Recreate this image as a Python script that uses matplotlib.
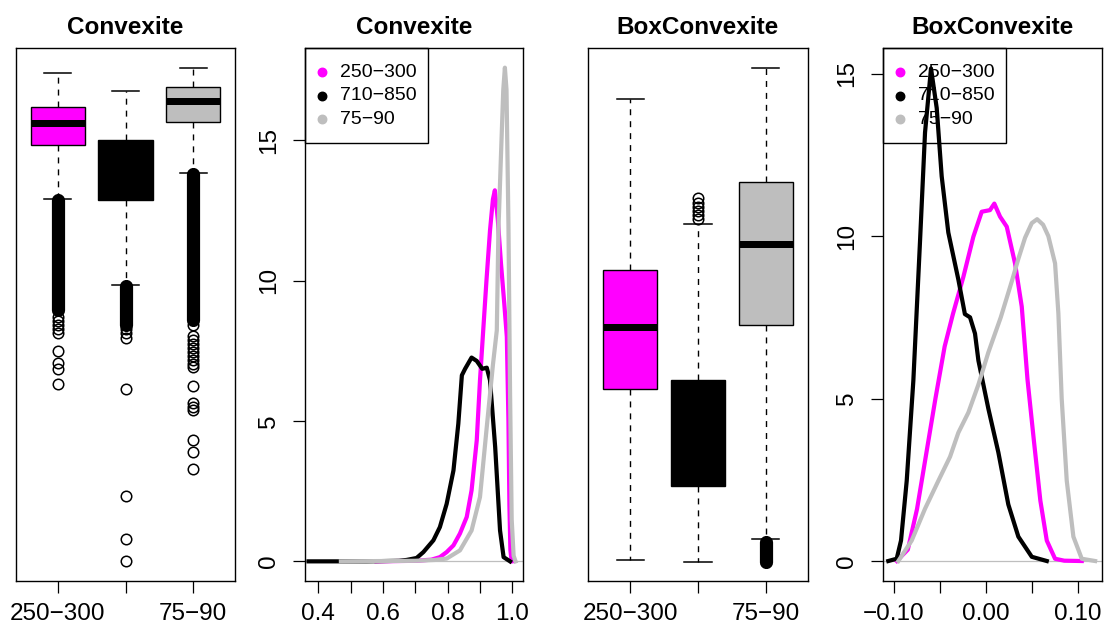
import matplotlib
matplotlib.use("Agg")
import matplotlib.pyplot as plt
from matplotlib.patches import Rectangle

plt.rcParams['font.family'] = ['Liberation Sans', 'DejaVu Sans']

# ---------------- data ----------------
groups = ["250-300", "710-850", "75-90"]
colors = ["#FF00FF", "#000000", "#BEBEBE"]

# Panel 1: boxplot of Convexite
conv_whislo = [0.8322, 0.7227, 0.8654]
conv_q1 = [0.9016, 0.8313, 0.9306]
conv_med = [0.9301, 0.8671, 0.9582]
conv_q3 = [0.9502, 0.9076, 0.9753]
conv_whishi = [0.9940, 0.9706, 1.0000]
conv_fliers = [
    [0.6822, 0.6771, 0.6720, 0.6668, 0.6617, 0.6383, 0.6226, 0.6153, 0.5958],
    [0.6665, 0.6613, 0.6550, 0.5894, 0.4530, 0.3981, 0.3700],
    [0.6716, 0.6575, 0.6524, 0.6473, 0.6422, 0.6371, 0.6320, 0.6269, 0.6218,
     0.6179, 0.5940, 0.5715, 0.5672, 0.5630, 0.5246, 0.5097, 0.4875],
]
# ranges where outliers are so dense they form a solid column
conv_dense = [[0.6907, 0.8310], [0.6716, 0.7208], [0.6780, 0.8650]]

# Panel 2: density of Convexite
conv_dens_x = [
    [0.580, 0.700, 0.750, 0.776, 0.797, 0.818, 0.838, 0.859, 0.874, 0.890, 0.900,
     0.910, 0.920, 0.931, 0.940, 0.946, 0.955, 0.965, 0.975, 0.983, 0.988, 0.991,
     0.994, 0.998],
    [0.370, 0.450, 0.550, 0.650, 0.673, 0.704, 0.725, 0.756, 0.776, 0.797, 0.818,
     0.833, 0.844, 0.854, 0.874, 0.890, 0.907, 0.921, 0.931, 0.947, 0.962, 0.973,
     0.993],
    [0.470, 0.700, 0.760, 0.797, 0.838, 0.874, 0.900, 0.921, 0.940, 0.952, 0.957,
     0.965, 0.972, 0.977, 0.982, 0.988, 0.993, 0.998, 1.004, 1.010],
]
conv_dens_y = [
    [0.00, 0.02, 0.06, 0.15, 0.33, 0.57, 0.99, 1.58, 2.53, 4.31, 6.45,
     8.23, 10.00, 11.79, 12.90, 13.22, 12.20, 10.60, 9.20, 8.00, 5.00, 2.00,
     0.40, 0.00],
    [0.00, 0.00, 0.00, 0.02, 0.05, 0.12, 0.33, 0.75, 1.22, 2.05, 3.24,
     4.90, 6.63, 6.86, 7.26, 7.14, 6.86, 6.90, 6.45, 4.07, 1.10, 0.15,
     0.00],
    [0.00, 0.02, 0.05, 0.10, 0.39, 1.10, 2.29, 4.79, 7.00, 8.23, 11.80,
     14.50, 16.80, 17.59, 16.80, 12.00, 6.00, 1.50, 0.20, 0.00],
]

# Panel 3: boxplot of BoxConvexite
box_whislo = [-0.0892, -0.0902, -0.0811]
box_q1 = [-0.0236, -0.0608, 0.0011]
box_med = [0.0002, -0.0396, 0.0323]
box_q3 = [0.0223, -0.0200, 0.0561]
box_whishi = [0.0879, 0.0399, 0.1000]
box_fliers = [[], [0.0417, 0.0433, 0.0448, 0.0463, 0.0479, 0.0498], []]
box_dense = [None, None, [-0.0900, -0.0823]]

# Panel 4: density of BoxConvexite
box_dens_x = [
    [-0.097, -0.085, -0.075, -0.065, -0.055, -0.045, -0.036, -0.0246, -0.0138,
     -0.0047, 0.0043, 0.0090, 0.0152, 0.0225, 0.0315, 0.0388, 0.0450, 0.0520,
     0.0590, 0.0660, 0.0750, 0.0850, 0.1040],
    [-0.1062, -0.0971, -0.0924, -0.0862, -0.0790, -0.0717, -0.0663, -0.0598,
     -0.0536, -0.0482, -0.0410, -0.0300, -0.0230, -0.0174, -0.0120, -0.0083,
     0.0025, 0.0134, 0.0242, 0.0351, 0.0497, 0.0660],
    [-0.0953, -0.0808, -0.0663, -0.0518, -0.0391, -0.0301, -0.0192, -0.0083,
     0.0025, 0.0160, 0.0279, 0.0351, 0.0424, 0.0497, 0.0555, 0.0620, 0.0677,
     0.0750, 0.0786, 0.0822, 0.0877, 0.0949, 0.1040, 0.1185],
]
box_dens_y = [
    [0.00, 0.35, 1.60, 3.30, 5.00, 6.60, 7.60, 8.75, 9.98,
     10.75, 10.80, 11.00, 10.60, 10.29, 9.16, 7.83, 5.60, 3.70,
     1.86, 0.63, 0.07, 0.01, 0.00],
    [0.00, 0.07, 0.63, 2.47, 5.55, 9.87, 13.19, 15.16,
     13.94, 11.84, 10.11, 8.65, 7.60, 7.50, 7.00, 6.17,
     4.69, 3.34, 1.74, 0.75, 0.13, 0.00],
    [0.00, 0.63, 1.61, 2.47, 3.21, 3.95, 4.57, 5.43,
     6.42, 7.50, 8.60, 9.30, 9.95, 10.40, 10.52, 10.35, 10.00,
     9.16, 7.62, 5.00, 2.47, 0.75, 0.07, 0.00],
]

conv_xticks = [0.4, 0.5, 0.6, 0.7, 0.8, 0.9, 1.0]
conv_xlabels = ["0.4", "", "0.6", "", "0.8", "", "1.0"]
box_xticks = [-0.10, -0.05, 0.0, 0.05, 0.10]
box_xlabels = ["\u22120.10", "", "0.00", "", "0.10"]
dens_yticks = [0, 5, 10, 15]


def disp(s):
    # R renders the hyphen as a minus sign
    return s.replace("-", "\u2212")


# ---------------- figure ----------------
W, H = 1104, 626
fig = plt.figure(figsize=(W / 100, H / 100), dpi=100)

top_px, bot_px = 48.3, 581.0
panels_px = [(16.0, 235.0), (305.0, 523.0), (588.3, 807.7), (882.7, 1102.0)]
axes = []
for (l, r) in panels_px:
    ax = fig.add_axes([l / W, (H - bot_px) / H, (r - l) / W, (bot_px - top_px) / H])
    axes.append(ax)

FS = 17.5
PX = 72 / 100  # points per pixel


def style_axes(ax):
    for s in ax.spines.values():
        s.set_linewidth(1.0)
        s.set_color("black")
    ax.tick_params(direction="out", length=12 * PX, width=0.9, color="black",
                   labelsize=FS, labelcolor="black")
    ax.tick_params(axis="x", pad=7)
    ax.tick_params(axis="y", pad=9)


def boxpanel(ax, title, whislo, q1, med, q3, whishi, fliers, dense, ylim):
    stats = []
    for i in range(len(groups)):
        stats.append(dict(med=med[i], q1=q1[i], q3=q3[i], whislo=whislo[i],
                          whishi=whishi[i], fliers=fliers[i]))
    pos = list(range(1, len(groups) + 1))
    bp = ax.bxp(stats, positions=pos, widths=0.8, capwidths=0.4,
                patch_artist=True, manage_ticks=False,
                boxprops=dict(linewidth=1.0, edgecolor="black"),
                medianprops=dict(color="black", linewidth=7 * PX, solid_capstyle="butt"),
                whiskerprops=dict(color="black", linewidth=1.0, linestyle=(0, (4.3, 4.3))),
                capprops=dict(color="black", linewidth=1.1),
                flierprops=dict(marker="o", markerfacecolor="none", markeredgecolor="black",
                                markersize=10.5 * PX, markeredgewidth=1.1, linestyle="none"))
    for patch, c in zip(bp["boxes"], colors):
        patch.set_facecolor(c)
    for i, d in enumerate(dense):
        if d is not None:
            ax.plot([pos[i], pos[i]], d, color="black", linewidth=13.2 * PX,
                    solid_capstyle="round", zorder=3)
    ax.set_xlim(0.38, 3.62)
    ax.set_ylim(*ylim)
    ax.set_xticks(pos)
    ax.set_xticklabels([disp(groups[0]), "", disp(groups[-1])])
    ax.set_yticks([])
    ax.set_title(title, fontsize=FS, fontweight="bold", pad=10.5)
    style_axes(ax)


def legend_box(ax, l, r):
    wpx = r - l
    hpx = bot_px - top_px
    ax.add_patch(Rectangle((0, 1 - 95 / hpx), 123 / wpx, 95 / hpx, transform=ax.transAxes,
                           fill=False, edgecolor="black", linewidth=1.0, zorder=5,
                           clip_on=False))
    for i, (g, c) in enumerate(zip(groups, colors)):
        yy = 1 - (24 + 23.5 * i) / hpx
        ax.plot([17.3 / wpx], [yy], marker="o", markersize=8.5 * PX, color=c,
                transform=ax.transAxes, zorder=6, clip_on=False)
        ax.text(35 / wpx, yy, disp(g), transform=ax.transAxes, fontsize=14, va="center",
                ha="left", zorder=6)


def denspanel(ax, title, xs, ys, xlim, ylim, xticks, xlabels, lr):
    ax.axhline(0, color="#BEBEBE", linewidth=0.9, zorder=1)
    for x, y, c in zip(xs, ys, colors):
        ax.plot(x, y, color=c, linewidth=4.2 * PX, zorder=2, solid_joinstyle="round")
    ax.set_xlim(*xlim)
    ax.set_ylim(*ylim)
    ax.set_xticks(xticks)
    ax.set_xticklabels(xlabels)
    ax.set_yticks(dens_yticks)
    ax.set_yticklabels([str(v) for v in dens_yticks])
    for lab in ax.get_yticklabels():
        lab.set_rotation(90)
        lab.set_va("center")
    ax.set_title(title, fontsize=FS, fontweight="bold", pad=10.5)
    style_axes(ax)
    legend_box(ax, *lr)


boxpanel(axes[0], "Convexite", conv_whislo, conv_q1, conv_med, conv_q3, conv_whishi,
         conv_fliers, conv_dense, (0.3444, 1.0252))
denspanel(axes[1], "Convexite", conv_dens_x, conv_dens_y, (0.359, 1.033), (-0.70, 18.28),
          conv_xticks, conv_xlabels, panels_px[1])
boxpanel(axes[2], "BoxConvexite", box_whislo, box_q1, box_med, box_q3, box_whishi,
         box_fliers, box_dense, (-0.0974, 0.1075))
denspanel(axes[3], "BoxConvexite", box_dens_x, box_dens_y, (-0.1123, 0.126), (-0.615, 15.78),
          box_xticks, box_xlabels, panels_px[3])

fig.savefig("out.png", dpi=100, facecolor="white")
